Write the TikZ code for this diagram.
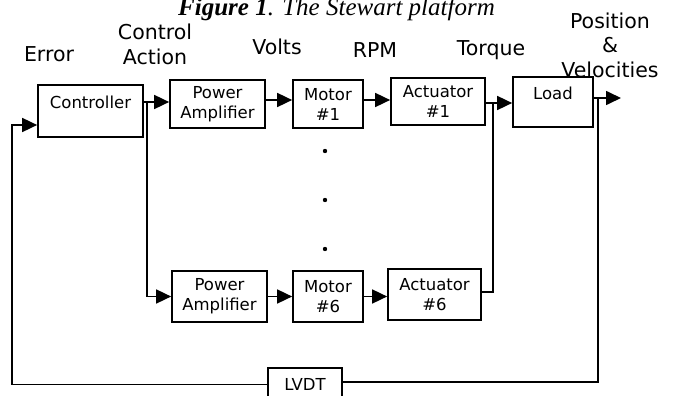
\documentclass[tikz,border=0pt]{standalone}
\usepackage{fontspec}
\setmainfont{DejaVu Sans}
\newfontfamily\titlefont{Liberation Serif}
\usetikzlibrary{arrows.meta}

\tikzset{
  blk/.style={draw, line width=1.7pt, align=center, inner xsep=0pt, inner ysep=0pt,
    font=\fontsize{16.5}{20}\selectfont},
  topblk/.style={blk, text height=12.5pt, text depth=16.5pt, inner ysep=#1},
  sig/.style={font=\fontsize{20.5}{25}\selectfont, align=center, anchor=base},
  wire/.style={line width=1.7pt},
  flow/.style={wire, -{Triangle[length=15pt,width=14pt]}}
}

\begin{document}
\begin{tikzpicture}[x=1pt, y=-1pt]
    \useasboundingbox (0,0) rectangle (673,396);
    \clip (0,0) rectangle (673,396);

    \node[anchor=base, font=\titlefont\fontsize{25}{25}\selectfont\itshape] (title) at (336.5,16)
        {\textbf{Figure 1}. The Stewart platform};

    % Bloques
    \node[topblk=11.5pt, minimum width=105pt] (ctrl) at (90.5,111) {Controller};
    \node[blk, minimum width=95pt, minimum height=48pt] (pa1) at (217.5,104) {Power\\Amplifier};
    \node[blk, minimum width=70pt, minimum height=48pt] (mot1) at (328,104) {Motor\\\#1};
    \node[blk, minimum width=94pt, minimum height=47pt] (act1) at (438,101.5) {Actuator\\\#1};
    \node[topblk=10.5pt, minimum width=80pt] (load) at (553,102) {Load};

    \node[blk, minimum width=95pt, minimum height=51pt] (pa6) at (219.5,296.5) {Power\\Amplifier};
    \node[blk, minimum width=70pt, minimum height=51pt] (mot6) at (328,296.5) {Motor\\\#6};
    \node[blk, minimum width=93pt, minimum height=51pt] (act6) at (434.5,294.5) {Actuator\\\#6};

    \node[blk, minimum width=74pt, minimum height=33pt] (lvdt) at (305,384.5) {LVDT};

    % Etiquetas de señales (base = ultima linea)
    \node[sig] (err) at (49,61.7) {Error};
    \node[sig] (ctl) at (155,65) {Control\\Action};
    \node[sig] (volt) at (277,55) {Volts};
    \node[sig] (rpm) at (375,58) {RPM};
    \node[sig] (torq) at (491,56) {Torque};
    \node[sig] (pos) at (610,78) {Position\\\&\\Velocities};

    \foreach \y in {151,200,249}
        \fill (325,\y) circle (2.2pt);

    % Conexiones
    \coordinate (split) at (147,102);
    \coordinate (sum) at (493,103);
    \coordinate (tap) at (598,98);
    \coordinate (out) at (621,98);
    \coordinate (fb) at (12,125);

    \draw[wire] (ctrl.east |- split) -- (split);
    \draw[flow] (split) -- (split -| pa1.west);
    \draw[flow] (split) |- (pa6.west);
    \draw[flow] ([yshift=4pt]pa1.east) -- ([yshift=4pt]mot1.west);
    \draw[flow] ([yshift=4pt]mot1.east) -- ([yshift=4pt]mot1.east -| act1.west);
    \draw[flow] (pa6.east) -- (mot6.west);
    \draw[flow] (mot6.east) -- (mot6.east -| act6.west);
    \draw[flow] (act1.east |- sum) -- (sum -| load.west);
    \draw[wire] (sum) |- ([yshift=2.5pt]act6.east);
    \draw[flow] (load.east |- out) -- (out);
    \draw[wire] (tap) |- ([yshift=2.5pt]lvdt.east);
    \draw[flow] (lvdt.west) -| (fb) -- (fb -| ctrl.west);
\end{tikzpicture}
\end{document}
